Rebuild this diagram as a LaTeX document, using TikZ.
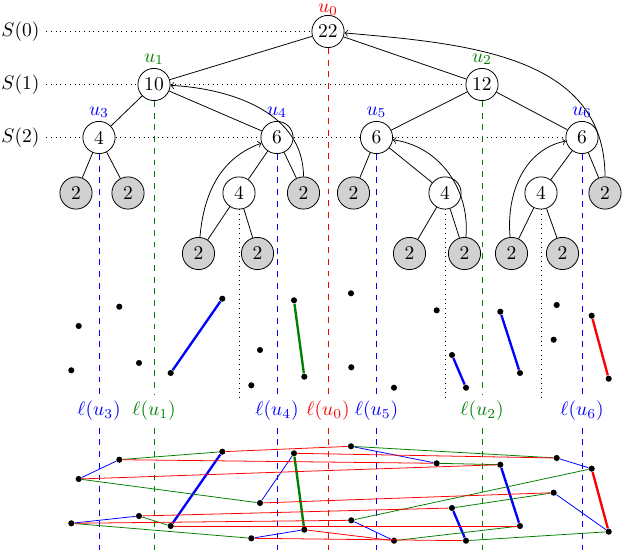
\documentclass[tikz,border=0pt]{standalone}
\usetikzlibrary{positioning}
\colorlet{cgreen}{green!50!black}
\tikzset{
  every picture/.style={x=0.18mm, y=0.18mm},
  tnode/.style={circle, draw, fill=white, minimum size=5.8mm, inner sep=0pt},
  leaf/.style={tnode, fill=black!18},
  pt/.style={circle, fill=black, minimum size=1.1mm, inner sep=0pt},
  lev/.style={dotted},
  sepline/.style={draw=#1, dashed},
  seg/.style={draw=#1, line width=1.2pt},
  link/.style={draw=#1, line width=0.4pt},
  lbl/.style={text=#1},
}
\begin{document}
\begin{tikzpicture}
  \useasboundingbox (0,0) rectangle (623,-554);
  % tree
  \node[tnode] (u0) at (328,-31.5) {22};
  \node[tnode] (u1) at (154,-84.5) {10};
  \node[tnode] (u2) at (482,-84.5) {12};
  \node[tnode] (u3) at (99,-137.5) {4};
  \foreach \n/\x in {4/277, 5/376.5, 6/582}
    \node[tnode] (u\n) at (\x,-137.5) {6};
  \foreach \n/\x in {v4/239, v5/445, v6/541}
    \node[tnode] (\n) at (\x,-193) {4};
  \foreach \n/\x in {u3a/76, u3b/128, u4b/303.5, u5a/353.5, u6b/605}
    \node[leaf] (\n) at (\x,-193) {2};
  \foreach \n/\x in {v4a/198.5, v4b/257.5, v5a/409.5, v5b/464.5, v6a/511.5, v6b/562.5}
    \node[leaf] (\n) at (\x,-253.5) {2};
  \node[lbl=red, above=-4pt of u0] (lu0) {$u_0$};
  \foreach \n/\c in {1/cgreen, 2/cgreen, 3/blue, 4/blue, 5/blue, 6/blue}
    \node[lbl=\c, above=-2pt of u\n] (lu\n) {$u_\n$};
  \foreach \a/\b in {u0/u1, u0/u2, u1/u3, u1/u4, u2/u5, u2/u6, u3/u3a, u3/u3b,
                     u4/v4, u4/u4b, v4/v4a, v4/v4b, u5/u5a, u5/v5, v5/v5a, v5/v5b,
                     u6/v6, u6/u6b, v6/v6a, v6/v6b}
    \draw (\a) -- (\b);
  \draw[->] (v4a) to[out=85, in=200] (u4);
  \draw[->] (u4b) to[out=90, in=-3] (u1);
  \draw[->] (v5b) to[out=85, in=-8] (u5);
  \draw[->] (v6a) to[out=95, in=192] (u6);
  \draw[->] (u6b) to[out=90, in=-5, looseness=1.05] (u0);
  % levels
  \foreach \i/\y in {0/-31.5, 1/-84.5, 2/-137.5}
    \node (s\i) at (20.5,\y) {$S(\i)$};
  \draw[lev] (s0) -- (u0);
  \draw[lev] (s1) -- (u1) (u1) -- (u2);
  \draw[lev] (s2) -- (u3) (u3) -- (u4) (u4) -- (u5) (u5) -- (u6);
  % split lines
  \coordinate (mid) at (0,-397);
  \coordinate (bot) at (0,-550);
  \foreach \n/\c in {0/red, 1/cgreen, 2/cgreen, 3/blue, 4/blue, 5/blue, 6/blue} {
    \node[lbl=\c] (l\n) at (u\n |- 0,-411) {$\ell(u_\n)$};
    \draw[sepline=\c] (u\n) -- (l\n) (l\n) -- (u\n |- bot);
  }
  \foreach \n in {v4, v5, v6} \draw[lev] (\n) -- (\n |- mid);
  % points, once as a set and once as the graph
  \foreach \n/\x/\y in {a1/78.7/326, a2/71.3/370.3, a3/119.3/306.7, a4/139/363,
                        b1/170.7/373, b2/222.3/298.7, b3/260/350, b4/251.3/385.3,
                        c1/294/300.3, c2/304.3/376.7, d1/351/293.3, d2/351.3/367.3,
                        e1/394/387.7, e2/436.7/310.3, e3/452/355, e4/466/387.7,
                        f1/500.3/311.7, f2/520/373, f3/556.7/305, f4/553.7/339.7,
                        g1/591.7/315.7, g2/608.7/378.7} {
    \node[pt] (m\n) at (\x,-\y) {};
    \node[pt] (\n) at (\x,-\y-153) {};
  }
  \foreach \a/\b/\c in {b1/b2/blue, c1/c2/cgreen, e3/e4/blue, f1/f2/blue, g1/g2/red} {
    \draw[seg=\c] (m\a) -- (m\b);
    \draw[seg=\c] (\a) -- (\b);
  }
  \foreach \a/\b in {a1/a3, a2/a4, b3/c1, b4/c2, d1/e2, d2/e1, f3/g1, f4/g2}
    \draw[link=blue] (\a) -- (\b);
  \foreach \a/\b in {a3/b2, a1/b3, a4/b1, a2/b4, d1/f3, e2/f1, e3/f4, e1/f2, d2/g1, e4/g2}
    \draw[link=cgreen] (\a) -- (\b);
  \foreach \a/\b in {b2/d1, c1/f3, a3/e2, a1/f1, b3/f4, a4/e3, a2/d2, b1/f2, c2/e1, b4/e4}
    \draw[link=red] (\a) -- (\b);
\end{tikzpicture}
\end{document}
